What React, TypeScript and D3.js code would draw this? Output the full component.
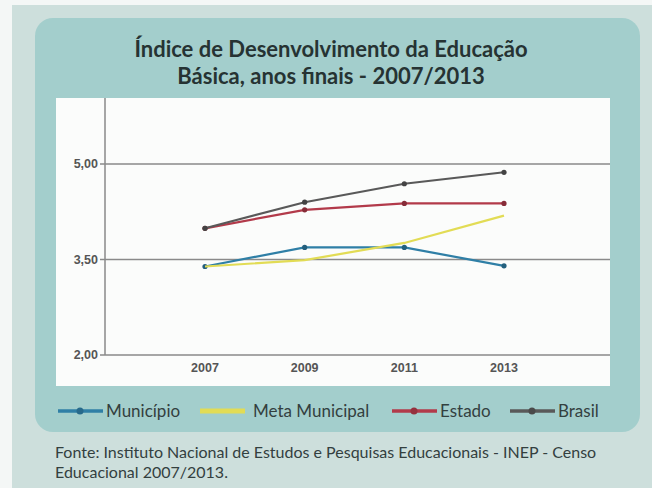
import React from "react";
import * as d3 from "d3";

const years = [2007, 2009, 2011, 2013];
const yTicks = [2.0, 3.5, 5.0];
const municipio = [3.39, 3.69, 3.69, 3.4];
const metaMunicipal = [3.39, 3.49, 3.76, 4.19];
const estado = [3.99, 4.28, 4.38, 4.38];
const brasil = [3.99, 4.4, 4.69, 4.87];
const seriesNames = ["Município", "Meta Municipal", "Estado", "Brasil"];
const seriesColors = ["#2f7fa6", "#e2dc55", "#b23a4a", "#595959"];
const titleLines = ["Índice de Desenvolvimento da Educação", "Básica, anos finais - 2007/2013"];
const sourceLines = [
  "Fonte: Instituto Nacional de Estudos e Pesquisas Educacionais - INEP - Censo",
  "Educacional 2007/2013.",
];

export default function App() {
  const W = 652, H = 488;
  const x = d3.scaleLinear().domain([2007, 2013]).range([205, 504]);
  const y = d3.scaleLinear().domain([2, 5]).range([355, 164]);
  const seriesData = [municipio, metaMunicipal, estado, brasil];
  const line = d3
    .line<number>()
    .x((_, i) => x(years[i]))
    .y((d) => y(d));
  const fmt = (v: number) => v.toFixed(2).replace(".", ",");
  const legendX = [58, 200, 392, 510];
  const font = "Lato, 'Open Sans', sans-serif";
  const textCol = "#33403f";

  return (
    <svg
      width={W}
      height={H}
      style={{ position: "absolute", left: 0, top: 0, display: "block" }}
    >
      <rect x={0} y={0} width={W} height={H} fill="#f4f7f6" />
      <rect x={12} y={5} width={W - 12} height={H - 5} fill="#cddfdc" />
      <rect x={35} y={18} width={605} height={414} rx={18} fill="#a3cecc" />
      <rect x={56} y={98} width={554} height={288} fill="#fbfcfb" />
      {titleLines.map((t, i) => (
        <text
          key={i}
          x={331}
          y={57 + i * 27}
          textAnchor="middle"
          fontFamily={font}
          fontWeight={700}
          fontSize={22}
          fill="#263333"
        >
          {t}
        </text>
      ))}
      {yTicks.map((t) => (
        <g key={t}>
          <line x1={100} x2={610} y1={y(t)} y2={y(t)} stroke="#8a8a8a" strokeWidth={1.5} />
          <text
            x={98}
            y={y(t)}
            dy="0.35em"
            textAnchor="end"
            fontFamily="Arial, 'Liberation Sans', sans-serif"
            fontWeight={700}
            fontSize={12.5}
            fill="#555"
          >
            {fmt(t)}
          </text>
        </g>
      ))}
      <line x1={105} x2={105} y1={98} y2={y(2)} stroke="#8a8a8a" strokeWidth={1.5} />
      {years.map((yr) => (
        <text
          key={yr}
          x={x(yr)}
          y={372}
          textAnchor="middle"
          fontFamily="Arial, 'Liberation Sans', sans-serif"
          fontWeight={700}
          fontSize={12.5}
          fill="#555"
        >
          {yr}
        </text>
      ))}
      {seriesData.map((s, si) => (
        <g key={si}>
          <path d={line(s) || ""} fill="none" stroke={seriesColors[si]} strokeWidth={2.2} />
          {si !== 1 &&
            s.map((v, i) => (
              <circle key={i} cx={x(years[i])} cy={y(v)} r={2.6} fill={d3.color(seriesColors[si])!.darker(0.8).toString()} />
            ))}
        </g>
      ))}
      {seriesNames.map((n, i) => (
        <g key={n} transform={`translate(${legendX[i]},411)`}>
          <line x1={0} x2={45} y1={0} y2={0} stroke={seriesColors[i]} strokeWidth={i === 1 ? 5 : 3.5} />
          {i !== 1 && <circle cx={22} cy={0} r={3.5} fill={d3.color(seriesColors[i])!.darker(0.5).toString()} />}
          <text
            x={i === 1 ? 53 : 48}
            y={0}
            dy="0.35em"
            fontFamily={font}
            fontSize={17}
            fill={textCol}
          >
            {n}
          </text>
        </g>
      ))}
      {sourceLines.map((t, i) => (
        <text key={i} x={55} y={458 + i * 20} fontFamily={font} fontSize={16} fill={textCol}>
          {t}
        </text>
      ))}
    </svg>
  );
}
